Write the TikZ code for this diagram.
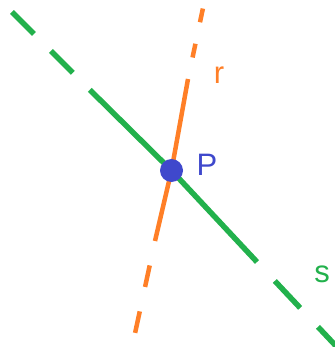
\documentclass[tikz,border=0pt]{standalone}
\usepackage{fontspec}
\setmainfont{Liberation Sans}
\usetikzlibrary{positioning}

\definecolor{sgreen}{RGB}{34,177,76}
\definecolor{rorange}{RGB}{255,127,39}
\definecolor{pblue}{RGB}{63,72,204}

\begin{document}
\begin{tikzpicture}[x=1pt, y=-1pt,
    lineS/.style={draw=sgreen, line width=5.5pt},
    lineR/.style={draw=rorange, line width=4.5pt},
    point/.style={circle, fill=pblue, inner sep=0pt, minimum size=23pt},
    lbl/.style={font=\fontsize{31}{31}\selectfont, inner sep=0pt}
]
\useasboundingbox (0,0) rectangle (334,347);

% Points on the lines
\coordinate (gA) at (12,12);
\coordinate (gB) at (90,90);
\coordinate (gC) at (257,262);
\coordinate (gD) at (336,346);
\coordinate (rA) at (203,8);
\coordinate (rB) at (188,79);
\coordinate (rC) at (155,241);
\coordinate (rD) at (134,338);
\coordinate (X) at (171.5,170.5);

% Line s
\draw[lineS, dash pattern=on 31pt off 24pt] (gA) -- (gB);
\draw[lineS] (gB) -- (X) -- (gC);
\draw[lineS, dash pattern=on 37pt off 26pt, dash phase=37pt] (gC) -- (gD);

% Line r
\draw[lineR, dash pattern=on 14pt off 22pt, dash phase=14pt] (rB) -- (rA);
\draw[lineR] (rB) -- (X) -- (rC);
\draw[lineR, dash pattern=on 22pt off 25pt, dash phase=22pt] (rC) -- (rD);

% Intersection point
\node[point] (P) at (X) {};

% Labels
\node[lbl, text=pblue] (labP) at (207,165) {P};
\node[lbl, text=rorange] (labr) at (219,75) {r};
\node[lbl, text=sgreen] (labs) at (322,274) {s};

\end{tikzpicture}
\end{document}
